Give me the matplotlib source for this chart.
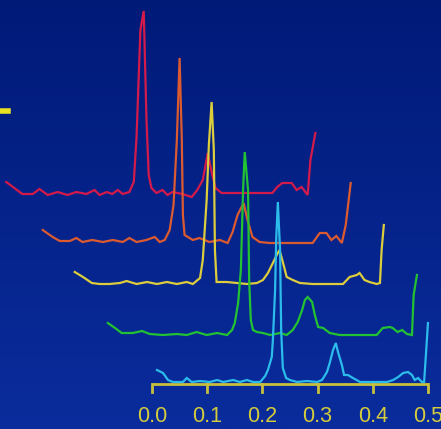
import numpy as np
import matplotlib
matplotlib.use("Agg")
import matplotlib.pyplot as plt
from matplotlib.colors import LinearSegmentedColormap

# spectra, back (red) to front (cyan); frequency vs amplitude
red_f = [-0.024, 0.005, 0.024, 0.036, 0.051, 0.069, 0.087, 0.103, 0.121, 0.136,
         0.145, 0.158, 0.168, 0.178, 0.187, 0.199, 0.207, 0.212, 0.219, 0.225,
         0.230, 0.234, 0.239, 0.248, 0.259, 0.268, 0.277, 0.295, 0.312, 0.322,
         0.332, 0.341, 0.348, 0.355, 0.366, 0.384, 0.417, 0.458, 0.467, 0.476,
         0.493, 0.502, 0.511, 0.522, 0.527, 0.536]
red_a = [0.14, 0.02, 0.02, 0.07, 0.01, 0.04, 0.01, 0.04, 0.02, 0.06,
         0.01, 0.04, 0.02, 0.06, 0.02, 0.04, 0.14, 0.59, 1.66, 1.85,
         0.76, 0.21, 0.08, 0.03, 0.06, 0.01, 0.04, 0.02, -0.01, 0.06,
         0.16, 0.43, 0.24, 0.08, 0.03, 0.03, 0.03, 0.03, 0.09, 0.13,
         0.13, 0.06, 0.09, 0.01, 0.36, 0.63]

orange_f = [-0.018, 0.000, 0.013, 0.031, 0.043, 0.054, 0.072, 0.091, 0.109, 0.127,
            0.139, 0.152, 0.170, 0.185, 0.194, 0.203, 0.212, 0.219, 0.225, 0.230,
            0.234, 0.236, 0.239, 0.254, 0.266, 0.284, 0.303, 0.317, 0.326, 0.335,
            0.346, 0.353, 0.362, 0.375, 0.393, 0.429, 0.471, 0.484, 0.496, 0.505,
            0.514, 0.524, 0.531, 0.540]
orange_a = [0.13, 0.06, 0.02, 0.02, 0.05, 0.01, 0.03, 0.01, 0.03, 0.01,
            0.05, 0.01, 0.03, 0.06, 0.01, 0.03, 0.13, 0.38, 1.03, 1.85,
            1.03, 0.28, 0.08, 0.03, 0.05, 0.01, 0.03, 0.00, 0.11, 0.28,
            0.40, 0.23, 0.06, 0.01, 0.00, 0.00, 0.00, 0.10, 0.10, 0.03,
            0.07, 0.00, 0.18, 0.60]

yellow_f = [-0.020, -0.005, 0.011, 0.025, 0.043, 0.062, 0.074, 0.092, 0.111, 0.129,
            0.147, 0.165, 0.183, 0.194, 0.207, 0.212, 0.219, 0.223, 0.228, 0.232,
            0.234, 0.237, 0.255, 0.274, 0.292, 0.310, 0.321, 0.330, 0.339, 0.346,
            0.351, 0.357, 0.364, 0.375, 0.388, 0.411, 0.437, 0.466, 0.478, 0.491,
            0.496, 0.505, 0.514, 0.527, 0.533, 0.536, 0.540]
yellow_a = [0.18, 0.13, 0.07, 0.06, 0.06, 0.07, 0.09, 0.06, 0.08, 0.06,
            0.08, 0.06, 0.08, 0.06, 0.12, 0.30, 0.90, 1.45, 1.88, 1.40,
            0.40, 0.08, 0.08, 0.07, 0.06, 0.07, 0.10, 0.17, 0.27, 0.35,
            0.40, 0.28, 0.13, 0.10, 0.07, 0.06, 0.06, 0.06, 0.13, 0.15,
            0.17, 0.10, 0.08, 0.06, 0.07, 0.40, 0.65]

green_f = [-0.020, -0.007, 0.005, 0.025, 0.042, 0.056, 0.080, 0.105, 0.123, 0.141,
           0.159, 0.178, 0.196, 0.205, 0.210, 0.216, 0.221, 0.225, 0.228, 0.234,
           0.236, 0.239, 0.243, 0.250, 0.261, 0.274, 0.292, 0.304, 0.315, 0.324,
           0.332, 0.337, 0.342, 0.350, 0.355, 0.361, 0.370, 0.382, 0.400, 0.437,
           0.467, 0.478, 0.491, 0.496, 0.505, 0.513, 0.522, 0.531, 0.534, 0.540]
green_a = [0.14, 0.09, 0.04, 0.04, 0.06, 0.03, 0.02, 0.03, 0.02, 0.05,
           0.02, 0.04, 0.02, 0.07, 0.14, 0.34, 0.67, 1.47, 1.85, 1.47,
           0.57, 0.17, 0.07, 0.05, 0.04, 0.02, 0.04, 0.02, 0.07, 0.15,
           0.27, 0.37, 0.40, 0.35, 0.22, 0.10, 0.09, 0.04, 0.02, 0.02,
           0.02, 0.09, 0.10, 0.09, 0.05, 0.07, 0.03, 0.02, 0.42, 0.62]

cyan_f = [0.009, 0.020, 0.029, 0.038, 0.056, 0.063, 0.072, 0.087, 0.105, 0.118,
          0.129, 0.147, 0.159, 0.172, 0.183, 0.196, 0.205, 0.210, 0.217, 0.219,
          0.223, 0.225, 0.228, 0.232, 0.234, 0.237, 0.243, 0.250, 0.263, 0.281,
          0.299, 0.308, 0.317, 0.322, 0.328, 0.333, 0.337, 0.344, 0.348, 0.355,
          0.364, 0.377, 0.400, 0.426, 0.437, 0.446, 0.455, 0.464, 0.471, 0.476,
          0.482, 0.489, 0.493, 0.496, 0.500]
cyan_a = [0.14, 0.11, 0.04, 0.02, 0.02, 0.06, 0.02, 0.03, 0.02, 0.04,
          0.02, 0.04, 0.02, 0.04, 0.02, 0.02, 0.08, 0.14, 0.27, 0.44,
          0.94, 1.44, 1.82, 1.34, 0.54, 0.16, 0.06, 0.04, 0.02, 0.03,
          0.02, 0.04, 0.12, 0.21, 0.34, 0.41, 0.32, 0.19, 0.09, 0.09,
          0.06, 0.02, 0.02, 0.02, 0.04, 0.07, 0.11, 0.12, 0.09, 0.04,
          0.06, 0.02, 0.02, 0.27, 0.61]

tick_vals = [0.0, 0.1, 0.2, 0.3, 0.4, 0.5]
tick_labels = ["0.0", "0.1", "0.2", "0.3", "0.4", "0.5"]

traces = [
    (red_f, red_a, "#d41a4a"),
    (orange_f, orange_a, "#dc5a30"),
    (yellow_f, yellow_a, "#dccd3c"),
    (green_f, green_a, "#22c232"),
    (cyan_f, cyan_a, "#2cbcec"),
]

# waterfall shift per trace (back traces go up and left)
dx, dy = -0.06, 0.47

fig = plt.figure(figsize=(4.41, 4.29), dpi=100)
ax = fig.add_axes([0, 0, 1, 1])
xlim = (-0.2754, 0.5236)
ylim = (-0.45, 3.84)

bg = LinearSegmentedColormap.from_list("bg", ["#0a2c9c", "#001a78"])
ax.imshow(np.linspace(0, 1, 256).reshape(-1, 1), extent=[*xlim, *ylim],
          aspect="auto", origin="lower", cmap=bg, zorder=0)

axis_col = "#c8c03c"
ax.plot([0, 0.5], [0, 0], color=axis_col, lw=2, zorder=1, solid_capstyle="butt")
for t in tick_vals:
    ax.plot([t, t], [0.0, -0.08], color=axis_col, lw=2, zorder=1)
for t, lab in zip(tick_vals, tick_labels):
    ax.text(t, -0.325, lab, color="#d4cc3c", ha="center", va="center",
            fontsize=15.5, family=["Liberation Sans Narrow", "Liberation Sans"])

n = len(traces)
for i, (f, a, col) in enumerate(traces):
    k = n - 1 - i
    ax.plot(np.array(f) + k * dx, np.array(a) + k * dy, color=col, lw=1.6,
            zorder=2 + i, solid_joinstyle="miter")

# small yellow mark at left edge
ax.plot([-0.2754, -0.261], [2.73, 2.73], color="#e8e020", lw=4, zorder=2)

ax.set_xlim(*xlim)
ax.set_ylim(*ylim)
ax.axis("off")
fig.savefig("out.png", dpi=100)
